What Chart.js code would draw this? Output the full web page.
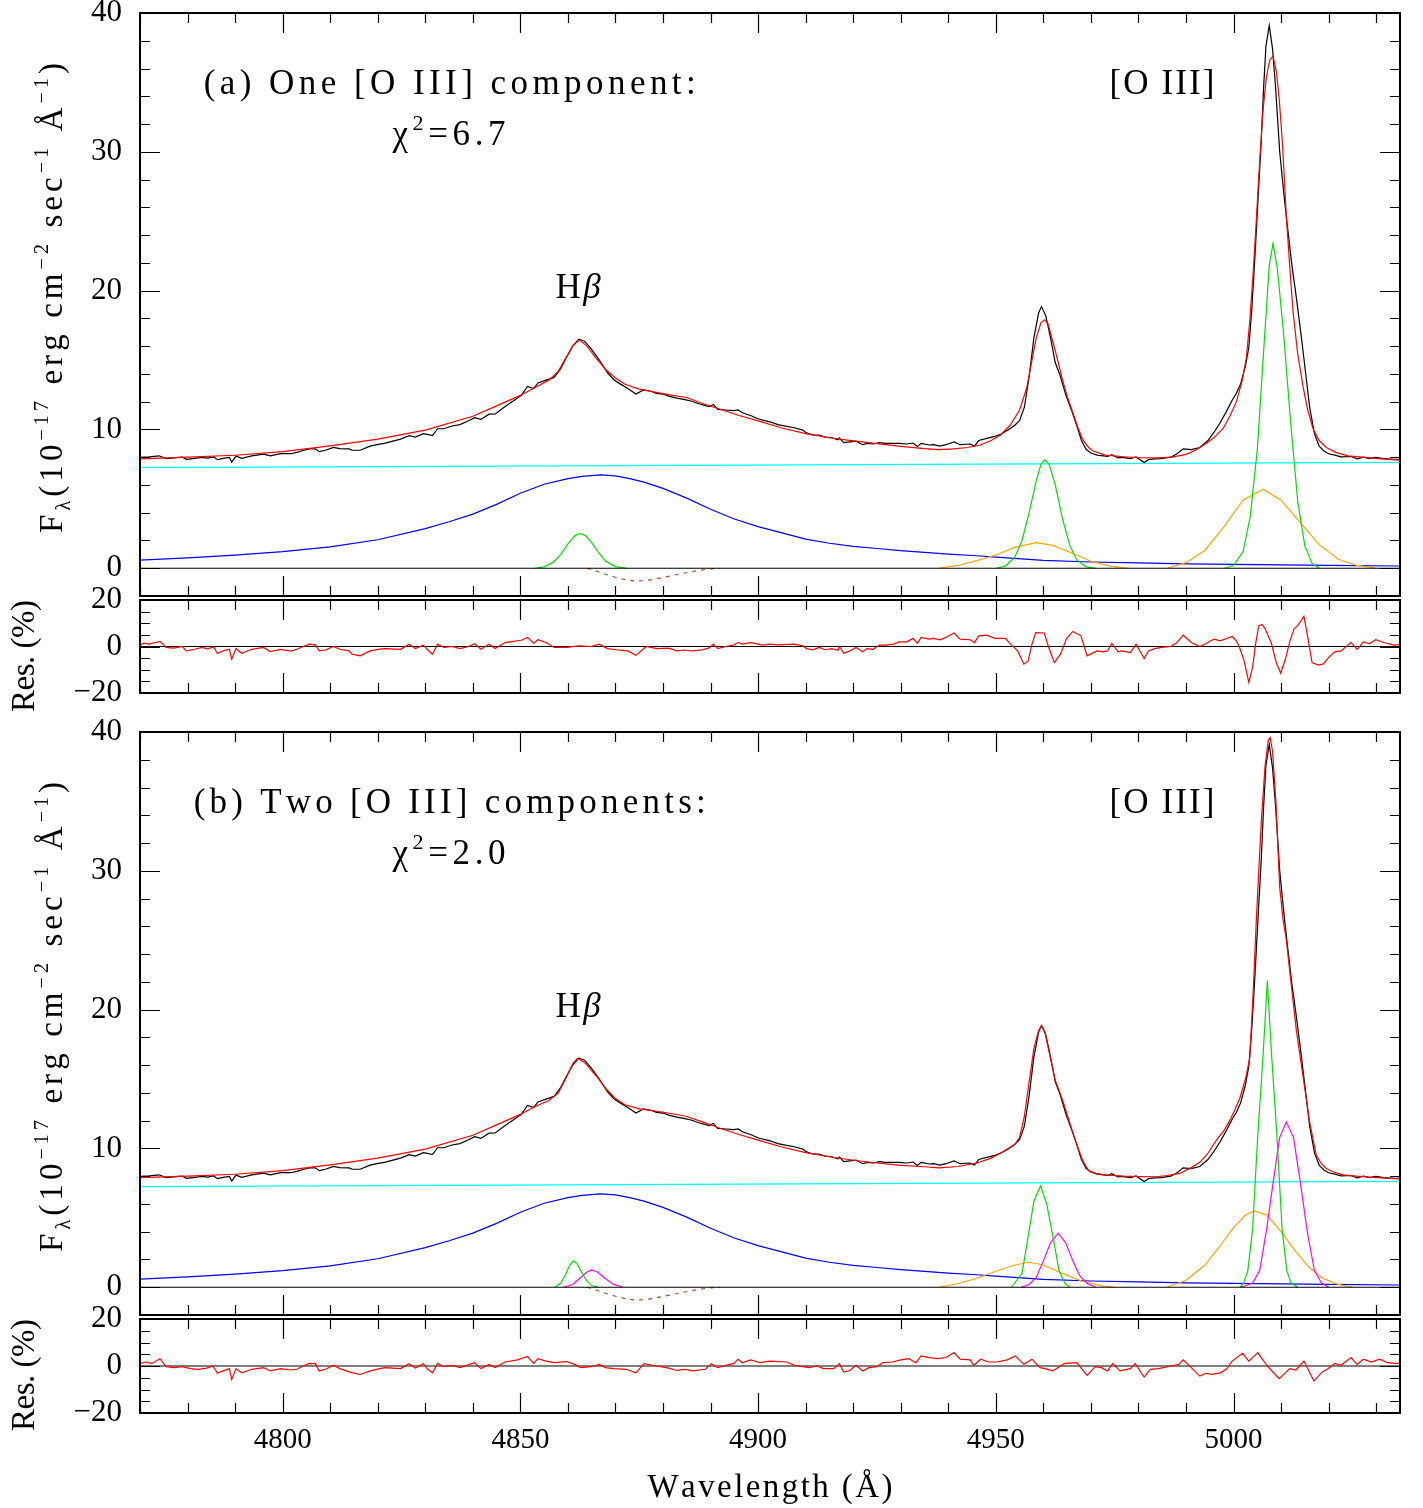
<!DOCTYPE html>
<html>
<head>
<meta charset="utf-8">
<script src="https://cdn.jsdelivr.net/npm/chart.js@4.4.0/dist/chart.umd.min.js"></script>
<style>
body { margin: 0; background: #fff; }
#wrap { position: relative; width: 1423px; height: 1508px; background: #fff; }
canvas { position: absolute; left: 0; }
</style>
</head>
<body>
<div id="wrap">
  <canvas id="mainA" width="1423" height="620" style="top:0px"></canvas>
  <canvas id="resA" width="1423" height="160" style="top:575px"></canvas>
  <canvas id="mainB" width="1423" height="640" style="top:700px"></canvas>
  <canvas id="resB" width="1423" height="218" style="top:1290px"></canvas>
</div>
<script>
// wavelength range (Angstrom)
const xMin = 4770, xMax = 5035;
const xLabels = [4800, 4850, 4900, 4950, 5000];
const yLabelsMain = [0, 10, 20, 30, 40];
const yLabelsRes = [-20, 0, 20];

// observed spectrum, same in both panels
const obsWave = [4770,4772,4774,4775.5,4777,4778.9,4779.8,4781.5,4783,4784.2,4785.5,4786.3,4787.5,4788.8,4789.3,4790.2,4791.4,4793.5,4796,4797.4,4799.6,4801.7,4803,4804.3,4805.6,4806.9,4807.7,4809,4810.7,4812,4814,4814.6,4816.3,4818.4,4820.1,4821.4,4824.8,4826.6,4827.9,4829.6,4830.4,4831.5,4832.6,4833.9,4835.6,4837.3,4839.1,4840.4,4841.7,4843.4,4844.7,4846.8,4848.5,4850.2,4851.5,4852.8,4853.7,4855.4,4857.1,4858.5,4859.7,4861,4862.3,4863.5,4864.9,4866.6,4868.3,4869.6,4870.9,4872.6,4874.3,4875.9,4877.5,4878.6,4880,4881.2,4882.9,4884.6,4885.9,4888,4889.7,4890.6,4891.5,4893.2,4894.9,4895.8,4896.7,4898.4,4900.1,4902.5,4904.2,4906,4907.6,4909.4,4910.2,4911.5,4912.8,4914.1,4915.5,4916.8,4917.1,4918,4919.3,4920.6,4922,4922.9,4924.2,4925.5,4926.8,4928.5,4929.6,4931.3,4932.6,4933.5,4934.3,4936,4936.9,4938.2,4939.5,4941.2,4942.5,4944.6,4945.5,4946.4,4948.1,4949.8,4951,4952.5,4954,4955,4956,4957,4958,4959,4959.6,4960.5,4961.5,4962.5,4963.5,4964.8,4966,4967,4968,4969,4970,4971.3,4972.6,4973.5,4974.4,4975.7,4976.5,4978.3,4979.5,4981.2,4982.1,4983.4,4984.7,4986.8,4988.1,4989.4,4991.1,4992.9,4994.6,4995.9,4997.2,4998.5,4999.7,5000.6,5001.5,5002.5,5003.2,5003.8,5004.5,5005.2,5005.8,5006.3,5006.8,5007.5,5008.2,5008.8,5009.7,5010.5,5011.2,5012.2,5013.2,5014.2,5015,5016,5017,5018,5019,5020,5021.3,5022.6,5024.7,5026,5027.3,5028.6,5029.9,5031.6,5033.7,5035];
const obsFlux = [7.98,8.02,8.1,7.9,7.95,8.0,7.85,7.92,7.98,7.94,8.02,7.82,7.92,7.98,7.65,8.08,7.92,8.1,8.22,8.1,8.25,8.25,8.35,8.48,8.6,8.6,8.4,8.5,8.7,8.62,8.6,8.5,8.5,8.8,8.92,9.0,9.3,9.55,9.45,9.7,9.65,9.55,10.05,10.05,10.25,10.35,10.62,10.85,10.72,11.1,11.12,11.65,12.05,12.45,13.1,12.95,13.35,13.55,13.75,14.4,15.2,16.0,16.5,16.35,15.8,15.0,14.1,13.6,13.3,12.95,12.55,12.85,12.75,12.6,12.55,12.4,12.25,12.15,12.05,11.8,11.65,11.8,11.45,11.4,11.35,11.4,11.2,11.0,10.75,10.55,10.35,10.22,10.12,9.95,9.75,9.6,9.6,9.45,9.4,9.25,9.38,9.05,9.1,9.15,8.9,9.0,8.95,9.05,9.0,9.0,9.0,8.95,9.02,8.78,9.0,8.88,8.9,8.8,8.9,9.1,8.9,8.95,8.8,9.2,9.35,9.5,9.65,9.95,10.3,10.65,11.6,13.8,16.6,18.4,18.85,18.2,16.6,14.8,13.9,12.4,11.3,10.3,9.2,8.55,8.3,8.15,8.1,8.05,8.18,7.95,7.98,7.9,8.02,7.62,7.82,7.88,7.9,8.0,8.25,8.6,8.55,8.7,9.2,9.8,10.5,11.3,12.1,12.6,13.3,14.6,15.9,18.5,22.5,27.0,30.7,34.5,37.6,39.1,37.4,34.8,30.0,27.2,25.0,22.0,19.5,16.8,14.5,11.6,9.7,8.8,8.45,8.25,8.15,8.02,8.05,7.88,8.0,7.9,7.98,7.9,7.85,7.85];

// total model, fit (a): one [O III] component
const fitA = [[4770,7.88],[4780,8.0],[4790,8.14],[4800,8.4],[4810,8.82],[4820,9.3],[4830,9.95],[4840,10.95],[4845,11.7],[4850,12.45],[4853,13.0],[4856,13.55],[4858,14.2],[4859.5,15.1],[4861,16.0],[4862.4,16.45],[4864,16.0],[4866,15.1],[4868,14.3],[4870,13.7],[4872,13.25],[4875,12.9],[4878,12.7],[4882,12.45],[4885,12.3],[4888,11.9],[4892,11.45],[4896,11.0],[4900,10.62],[4905,10.1],[4910,9.7],[4915,9.4],[4920,9.18],[4925,8.98],[4930,8.78],[4935,8.62],[4938,8.55],[4941,8.6],[4944,8.7],[4946.6,8.86],[4949,9.2],[4951,9.6],[4953,10.3],[4955,11.4],[4956.5,13.0],[4957.5,14.8],[4958.5,16.6],[4959.5,17.7],[4960.3,17.9],[4961,17.6],[4962,16.3],[4963,15.0],[4964,13.6],[4965,12.4],[4966.2,11.2],[4967.3,10.1],[4968.3,9.25],[4969.5,8.7],[4970.5,8.44],[4973,8.15],[4976.8,8.03],[4980,7.97],[4984,7.95],[4987,8.0],[4990,8.2],[4992,8.5],[4994.3,9.0],[4996,9.45],[4997.8,10.07],[4999.3,11.0],[5000.6,12.0],[5001.8,13.5],[5002.7,15.2],[5003.4,17.8],[5004.1,21.2],[5004.8,25.2],[5005.5,29.4],[5006.2,33.0],[5006.9,35.4],[5007.6,36.6],[5008.3,36.9],[5009,35.8],[5009.6,33.8],[5010.3,30.5],[5011.1,25.3],[5011.8,21.8],[5012.5,18.5],[5013.5,15.4],[5014.6,13.1],[5015.6,11.4],[5016.7,10.07],[5018,9.2],[5019.5,8.7],[5021.5,8.35],[5024,8.1],[5027,8.0],[5031,7.88],[5035,7.78]];

// total model, fit (b): two [O III] components
const fitB = [[4770,7.9],[4780,8.0],[4790,8.14],[4800,8.4],[4810,8.82],[4820,9.3],[4830,9.95],[4840,10.95],[4845,11.7],[4850,12.45],[4853,13.0],[4856,13.45],[4858,14.0],[4859.5,15.0],[4861,16.1],[4862,16.5],[4863.5,16.2],[4866,15.2],[4868,14.3],[4870,13.6],[4872,13.15],[4875,12.85],[4878,12.7],[4882,12.5],[4885,12.3],[4888,11.95],[4892,11.45],[4896,11.0],[4900,10.6],[4905,10.1],[4910,9.7],[4915,9.4],[4920,9.15],[4925,8.95],[4930,8.78],[4935,8.68],[4938,8.6],[4942,8.7],[4946,8.95],[4949,9.3],[4952,9.85],[4954,10.3],[4955,10.8],[4956,12.3],[4957,14.8],[4958,17.2],[4959,18.5],[4959.6,18.85],[4960.3,18.4],[4961.3,16.8],[4962.5,14.9],[4963.5,14.0],[4964.5,13.0],[4965.5,11.9],[4966.9,10.4],[4968.3,9.1],[4969.5,8.4],[4971,8.2],[4973,8.1],[4976.8,8.0],[4980,7.97],[4983.8,7.96],[4986,8.05],[4988.7,8.2],[4991,8.6],[4992.9,9.0],[4994.5,9.6],[4996.4,10.6],[4998,11.3],[4999.2,12.0],[5000.3,12.8],[5001.3,13.6],[5002.5,15.0],[5003.4,16.5],[5004.1,21.1],[5004.8,26.6],[5005.8,33.4],[5006.6,37.5],[5007.3,39.4],[5007.7,39.6],[5008.2,38.6],[5008.9,35.0],[5009.7,28.8],[5010.4,26.5],[5011.1,25.0],[5011.8,22.8],[5013.2,18.5],[5014.6,15.2],[5016,11.9],[5017.4,9.5],[5018.5,8.9],[5019.5,8.56],[5021,8.3],[5023,8.1],[5025.8,8.0],[5030,7.9],[5035,7.8]];

// power-law continuum
const continuum = [[4770,7.25],[5035,7.62]];

// broad H beta
const broadHb = [[4770,0.58],[4780,0.75],[4790,0.95],[4800,1.2],[4810,1.54],[4820,2.05],[4830,2.85],[4835,3.35],[4840,3.9],[4845,4.6],[4850,5.4],[4855,6.05],[4860,6.45],[4863,6.62],[4866.8,6.72],[4870,6.65],[4873,6.45],[4876,6.2],[4880,5.75],[4885,5.05],[4890,4.25],[4895,3.55],[4900,3.0],[4905,2.55],[4910,2.1],[4915,1.8],[4920,1.58],[4925,1.42],[4930,1.27],[4935,1.14],[4940,1.02],[4946,0.9],[4950,0.8],[4960,0.56],[4970,0.45],[4980,0.38],[4990,0.32],[5000,0.28],[5010,0.24],[5020,0.2],[5035,0.16]];

// Fe II absorption-like dip (dashed)
const feDip = [[4864,0],[4866,-0.2],[4868,-0.45],[4870,-0.65],[4872,-0.82],[4874,-0.92],[4876,-0.9],[4878,-0.8],[4880,-0.67],[4882,-0.52],[4884,-0.38],[4886,-0.25],[4888,-0.13],[4890,-0.04],[4892,0]];

// panel (a) narrow components
const narrowHbA = [[4853,0],[4855,0.1],[4857,0.45],[4858.5,1.0],[4860,1.75],[4861.5,2.35],[4862.6,2.5],[4863.7,2.35],[4865,1.85],[4866.5,1.1],[4868,0.5],[4870,0.12],[4872.4,0]];
const narrow4959A = [[4950,0],[4952,0.15],[4954,0.8],[4955.5,2.0],[4957,4.0],[4958.5,6.3],[4959.5,7.5],[4960.3,7.8],[4961.2,7.5],[4962.5,6.0],[4964,3.6],[4965.5,1.7],[4967,0.6],[4969,0.1],[4971,0]];
const narrow5007A = [[4998,0],[5000,0.2],[5002,1.2],[5003.5,3.7],[5005,8.6],[5006.3,15.5],[5007.5,21.8],[5008.3,23.4],[5009.2,21.6],[5010.5,17.0],[5012,10.5],[5013.5,4.8],[5015,1.6],[5016.5,0.35],[5018,0]];
const wing4959A = [[4938,0],[4942,0.2],[4946,0.55],[4950,0.95],[4954,1.5],[4958.5,1.85],[4962,1.65],[4966,1.1],[4970,0.5],[4974,0.15],[4978,0]];
const wing5007A = [[4986,0],[4990,0.4],[4994,1.3],[4998,3.0],[5002,4.9],[5006.2,5.7],[5010,4.9],[5014,3.3],[5018,1.7],[5022,0.65],[5026,0.2],[5030,0]];

// panel (b) narrow components
const narrowHbB = [[4857.3,0],[4858.5,0.3],[4859.5,0.9],[4860.4,1.6],[4861.2,1.9],[4862,1.65],[4863,1.0],[4864,0.45],[4865,0.12],[4866.4,0]];
const shiftHbB = [[4859.1,0],[4861,0.2],[4862.5,0.65],[4864,1.1],[4865,1.25],[4866.2,1.1],[4867.8,0.65],[4869.5,0.22],[4871.6,0]];
const narrow4959B = [[4953.3,0],[4955.5,1.0],[4956.8,3.65],[4958,6.2],[4959.4,7.3],[4960.7,6.0],[4962,3.65],[4963.3,1.2],[4964.5,0.3],[4965.5,0]];
const narrow5007B = [[5001.3,0],[5002.1,0.3],[5003,1.2],[5004,4.2],[5005.1,11],[5006.2,16.7],[5007.1,22.1],[5008,16.7],[5009.1,11],[5010.2,4.2],[5011.2,1.2],[5012.1,0.3],[5013.5,0]];
const shift4959B = [[4955.4,0],[4957,0.2],[4958.5,0.7],[4960,1.9],[4961.5,3.2],[4963.1,3.9],[4964.7,3.2],[4966.2,1.9],[4967.7,0.8],[4969.3,0.25],[4971,0]];
const shift5007B = [[5001.6,0],[5004,0.3],[5005.5,1.2],[5007,4.3],[5008.3,7.5],[5009.7,10.8],[5011.1,11.9],[5012.6,10.8],[5014.2,7.2],[5015.5,4.0],[5017,1.2],[5018.5,0.3],[5020,0]];
const wing4959B = [[4938,0],[4942,0.25],[4946,0.65],[4950,1.15],[4954,1.6],[4957,1.8],[4960,1.6],[4964,1.0],[4968,0.45],[4972,0.12],[4975,0]];
const wing5007B = [[4986,0],[4990,0.5],[4994,1.6],[4997,2.9],[5000,4.3],[5002.5,5.2],[5004.4,5.5],[5007,5.2],[5010,4.0],[5013,2.6],[5016,1.4],[5019,0.6],[5022,0.2],[5025,0]];

// residuals (%)
const resA = [[4770,0.6],[4770.8,1.4],[4772,1.0],[4773,1.6],[4774.2,2.2],[4775.5,-0.4],[4777,-0.7],[4778.9,0],[4779.8,-1.9],[4781.5,-1.2],[4783,-0.4],[4784.2,-1.0],[4785.5,-0.2],[4786.3,-3.0],[4787.5,-1.9],[4788.8,-1.2],[4789.3,-5.5],[4790.2,-0.9],[4791.4,-2.9],[4793.5,-1.2],[4796,-0.4],[4797.4,-2.2],[4799.6,-1.2],[4801.7,-2.0],[4803,-1.2],[4804.3,0],[4805.6,1.0],[4806.9,0.7],[4807.7,-1.9],[4809,-1.5],[4810.7,0],[4812,-1.2],[4814,-1.9],[4814.6,-3.3],[4816.3,-4.0],[4818.4,-1.9],[4820.1,-1.2],[4821.4,-0.9],[4824.8,-1.2],[4826.6,1.0],[4827.9,-0.9],[4829.6,0.6],[4830.4,-1.2],[4831.5,-3.3],[4832.6,1.0],[4833.9,-0.4],[4835.6,0],[4837.3,-0.9],[4839.1,0],[4840.4,1.2],[4841.7,-1.2],[4843.4,1.0],[4844.7,-0.9],[4846.8,1.7],[4848.5,2.2],[4850.2,2.7],[4851.5,3.9],[4852.8,1.4],[4853.7,2.9],[4855.4,1.7],[4857.1,-0.4],[4859.7,-0.4],[4862.3,0.3],[4864.9,0],[4866.6,1.0],[4868.3,-0.9],[4870.9,-1.6],[4872.6,-1.9],[4874.3,-3.8],[4876.5,0],[4878.6,-0.9],[4881.2,-0.7],[4882.9,-1.9],[4884.6,-1.5],[4885.9,-1.9],[4888,-1.6],[4889.7,-0.6],[4890.6,1.0],[4891.5,-0.9],[4893.2,0],[4894.9,0.7],[4895.8,1.7],[4896.7,1.0],[4898.4,1.7],[4900.1,1.0],[4900.8,0.6],[4902.5,1.0],[4904.2,0.7],[4907.6,1.0],[4909.4,0.3],[4910.2,-0.9],[4911.5,-1.4],[4912.8,-0.4],[4914.1,-1.4],[4915.5,-0.9],[4916.8,-1.6],[4917.1,0],[4918,-2.9],[4919.3,-1.9],[4920.6,-0.4],[4922,-2.3],[4922.9,-0.9],[4924.2,-1.2],[4925.5,0.6],[4926.8,0.6],[4928.5,1.0],[4929.6,2.0],[4931.3,2.0],[4932.6,3.5],[4933.5,1.4],[4934.3,3.9],[4936,3.2],[4936.9,3.5],[4938.2,2.9],[4939.5,3.9],[4941.2,5.8],[4942.5,3.2],[4944.6,2.9],[4945.5,1.7],[4946.4,4.6],[4948.1,4.9],[4949.8,3.5],[4952,3.5],[4953.3,0.6],[4954.6,-1.9],[4955.9,-7.6],[4956.8,-6.2],[4957.6,1.0],[4958.4,6.0],[4960.2,5.8],[4961,0.3],[4962.3,-6.9],[4963.6,-3.3],[4964.9,3.5],[4966.2,6.5],[4967.9,4.6],[4969.2,-4.0],[4971.3,-1.9],[4972.6,-2.3],[4973.5,-1.9],[4974.4,1.4],[4975.7,-2.3],[4976.5,-1.9],[4978.3,-2.6],[4979.5,1.0],[4981.2,-5.2],[4982.1,-1.9],[4983.4,-0.9],[4984.7,-0.4],[4986.8,0],[4988.1,1.7],[4989.4,4.9],[4991.1,1.7],[4992.9,0],[4994.6,1.7],[4995.9,3.2],[4997.2,2.4],[4999.7,4.3],[5000.6,2.4],[5001.2,0],[5002.2,-6.0],[5003.2,-15.4],[5004,-9.0],[5004.7,2.0],[5005.3,8.9],[5006,9.5],[5006.6,7.8],[5007.9,1.7],[5009,-7.0],[5009.9,-11.5],[5010.9,-5.5],[5011.8,2.0],[5012.7,7.5],[5013.5,9.0],[5014.8,13.0],[5015.6,4.0],[5016.5,-6.9],[5017.8,-8.0],[5018.9,-7.5],[5020,-4.7],[5021.3,-2.3],[5022.6,-1.9],[5024.7,1.7],[5026,-1.2],[5027.3,2.0],[5028.6,1.2],[5029.9,2.9],[5031.6,1.7],[5033.7,0.6],[5035,0.8]];
const resB = [[4770,1.1],[4771.3,1.7],[4772.5,1.1],[4774.2,3.1],[4775.5,-0.3],[4777.2,-0.7],[4778.9,-0.3],[4780.6,-1.1],[4782.3,-1.4],[4784,-0.9],[4785.3,0],[4786.3,-3.0],[4787.5,-2.1],[4788.8,-1.1],[4789.3,-5.7],[4790.2,-1.1],[4791.4,-2.9],[4793.5,-1.4],[4796,-0.7],[4797.4,-2.1],[4799.6,-1.1],[4801.7,-1.7],[4803,-1.4],[4804.3,0],[4805.6,1.1],[4806.9,1.0],[4807.7,-2.1],[4809,-1.4],[4810.7,0.3],[4812,-1.1],[4814.2,-2.6],[4816.3,-3.6],[4818.4,-2.1],[4821.4,-0.7],[4824.8,-1.1],[4826.6,1.0],[4827.9,-0.9],[4829.6,1.0],[4830.4,-1.1],[4831.5,-2.9],[4832.6,1.1],[4833.9,-0.3],[4835.6,0.3],[4837.3,-0.7],[4840.4,1.4],[4841.7,-1.1],[4843.4,0.7],[4844.7,-0.7],[4846.8,1.7],[4849.4,2.6],[4851.5,4.1],[4852.8,1.1],[4853.7,3.1],[4855.4,2.1],[4857.1,1.4],[4859.7,1.9],[4861.4,0.7],[4862.7,-0.7],[4864.9,-0.3],[4866.6,0.7],[4867.9,-0.7],[4869.6,-1.1],[4872.2,-1.4],[4874.3,-2.9],[4876,1.0],[4878.6,0],[4881.2,-0.9],[4882.9,-1.9],[4884.6,-1.4],[4886.3,-2.1],[4888.9,-1.4],[4890.2,1.0],[4891.5,-0.7],[4893.2,0.3],[4894.9,1.1],[4895.8,2.9],[4896.7,1.4],[4898.4,2.6],[4900.5,1.4],[4902.5,2.1],[4906,1.7],[4907.7,0.3],[4909.4,-0.3],[4910.7,-0.7],[4912.4,0],[4913.7,-1.1],[4915.9,-1.1],[4917.1,1.0],[4918,-2.6],[4919.3,-1.9],[4920.6,0.3],[4922,-2.1],[4923.3,-0.7],[4925,-0.3],[4926.2,1.4],[4928.3,1.7],[4930,2.6],[4931.7,3.1],[4933.2,1.4],[4934.3,4.3],[4936,3.6],[4937.7,3.1],[4939.5,3.6],[4941.2,5.7],[4942.5,2.9],[4944.6,2.6],[4945.4,0.3],[4946.8,2.9],[4948.5,1.7],[4950.2,1.7],[4952.4,2.6],[4954.1,4.3],[4955.9,0.7],[4957.6,2.9],[4959.3,-0.7],[4960.6,-1.2],[4961.9,-2.1],[4963.2,-0.5],[4964.5,1.1],[4967,1.4],[4969.2,-4.0],[4970.9,-0.3],[4972.2,-0.7],[4973.5,-2.1],[4974.6,1.1],[4976.1,-2.1],[4978.3,-1.1],[4979.3,1.1],[4981.2,-4.7],[4982.5,-1.4],[4984.2,-1.1],[4986.8,0],[4988.5,0.7],[4989.4,2.6],[4991.1,-0.7],[4992.9,-4.3],[4994.2,-3.1],[4995.5,-3.6],[4997.2,-2.9],[4998.5,-1.4],[4999.7,2.1],[5001.9,5.4],[5003.2,2.1],[5005.1,5.7],[5007.1,0],[5009.6,-5.4],[5011.8,-1.1],[5013.1,-1.7],[5014.8,2.1],[5016.9,-6.4],[5018.6,-2.6],[5019.9,-1.1],[5021.3,1.1],[5022.6,0.3],[5024.7,3.6],[5026,0.7],[5027.3,2.9],[5029,1.7],[5030.7,2.9],[5032.4,1.4],[5034.1,1.1],[5035,1.1]];

const zeroLine = [[xMin,0],[xMax,0]];

const FONT = "'Liberation Serif', 'DejaVu Serif', serif";
Chart.defaults.font.family = FONT;
Chart.defaults.color = '#000';

function xy(pairs) { return pairs.map(p => ({ x: p[0], y: p[1] })); }
function zip(w, f) { return w.map((x, i) => ({ x: x, y: f[i] })); }
function ln(data, color, extra) {
    return Object.assign({ data: data, borderColor: color, borderWidth: 1.2, pointRadius: 0, fill: false, tension: 0 }, extra || {});
}
function minusFmt(v) { return v < 0 ? '\u2212' + Math.abs(v) : String(v); }

// text with super/subscripts, stretched to a given length
function drawRich(ctx, parts, x, y, size, target) {
    const chars = [];
    parts.forEach(p => {
        const s = (p.sup || p.sub) ? Math.round(size * 0.62) : size;
        const dy = p.sup ? -size * 0.42 : (p.sub ? size * 0.24 : 0);
        for (const ch of p.t) chars.push({ ch: ch, s: s, dy: dy, it: !!p.it });
    });
    let w = 0;
    chars.forEach(c => {
        ctx.font = (c.it ? 'italic ' : '') + c.s + 'px ' + FONT;
        c.w = ctx.measureText(c.ch).width;
        w += c.w;
    });
    const sp = target ? (target - w) / Math.max(chars.length - 1, 1) : 0;
    let cx = x;
    chars.forEach(c => {
        ctx.font = (c.it ? 'italic ' : '') + c.s + 'px ' + FONT;
        ctx.fillText(c.ch, cx, y + c.dy);
        cx += c.w + sp;
    });
}

// frame, inward ticks and labels
const framePlugin = {
    id: 'frame',
    afterDatasetsDraw(chart, args, opts) {
        const ctx = chart.ctx, a = chart.chartArea;
        const xs = chart.scales.x, ys = chart.scales.y;
        ctx.save();
        ctx.strokeStyle = '#000';
        ctx.lineWidth = 1.2;
        ctx.beginPath();
        for (let v = 4770; v <= xMax; v += 10) {
            const px = Math.round(xs.getPixelForValue(v)) + 0.5;
            const len = v % 50 === 0 ? 20 : 10;
            ctx.moveTo(px, a.top); ctx.lineTo(px, a.top + len);
            ctx.moveTo(px, a.bottom); ctx.lineTo(px, a.bottom - len);
        }
        for (let v = opts.yFrom; v <= opts.yTo; v += opts.yMinor) {
            const py = Math.round(ys.getPixelForValue(v)) + 0.5;
            const len = v % opts.yMajor === 0 ? 20 : 10;
            ctx.moveTo(a.left, py); ctx.lineTo(a.left + len, py);
            ctx.moveTo(a.right, py); ctx.lineTo(a.right - len, py);
        }
        ctx.stroke();
        ctx.lineWidth = 2;
        ctx.strokeRect(a.left, a.top, a.right - a.left, a.bottom - a.top);

        ctx.fillStyle = '#000';
        ctx.textBaseline = 'alphabetic';
        ctx.textAlign = 'left';
        (opts.notes || []).forEach(n => {
            drawRich(ctx, n.parts, xs.getPixelForValue(n.x), ys.getPixelForValue(n.y), n.size, n.width);
        });
        if (opts.title) {
            const t = opts.title;
            ctx.save();
            ctx.translate(t.x, a.top + t.dy);
            ctx.rotate(-Math.PI / 2);
            drawRich(ctx, t.parts, -t.width / 2, 0, t.size, t.width);
            ctx.restore();
        }
        if (opts.xTitle) {
            const t = opts.xTitle;
            drawRich(ctx, t.parts, (a.left + a.right) / 2 - t.width / 2, a.bottom + t.dy, t.size, t.width);
        }
        ctx.restore();
    }
};

const fluxTitle = [{ t: 'F' }, { t: '\u03bb', sub: true }, { t: '(10' }, { t: '\u221217', sup: true }, { t: ' erg cm' }, { t: '\u22122', sup: true }, { t: ' sec' }, { t: '\u22121', sup: true }, { t: ' \u00c5' }, { t: '\u22121', sup: true }, { t: ')' }];
const resTitle = [{ t: 'Res. (%)' }];

function makePanel(id, cfg) {
    return new Chart(document.getElementById(id), {
        type: 'line',
        data: { datasets: cfg.datasets },
        options: {
            responsive: false,
            animation: false,
            devicePixelRatio: 1,
            layout: { padding: cfg.padding },
            plugins: { legend: { display: false }, tooltip: { enabled: false }, frame: cfg.frame },
            scales: {
                x: {
                    type: 'linear', min: xMin, max: xMax,
                    display: !!cfg.showX,
                    grid: { display: false, drawTicks: false },
                    border: { display: false },
                    afterBuildTicks: s => { s.ticks = xLabels.map(v => ({ value: v })); },
                    afterFit: s => {
                        if (cfg.showX) { s.height = 95; s.paddingLeft = 0; s.paddingRight = 0; }
                    },
                    ticks: { color: '#000', padding: 10, maxRotation: 0, callback: v => String(v),
                             font: { family: FONT, size: 29, weight: 'normal' } }
                },
                y: {
                    type: 'linear', min: cfg.yMin, max: cfg.yMax,
                    grid: { display: false, drawTicks: false },
                    border: { display: false },
                    afterBuildTicks: s => { s.ticks = cfg.yLabels.map(v => ({ value: v })); },
                    afterFit: s => { s.width = 140; s.paddingTop = 0; s.paddingBottom = 0; },
                    ticks: { color: '#000', padding: 18, callback: minusFmt,
                             font: { family: FONT, size: 31, weight: 'normal' } }
                }
            }
        },
        plugins: [framePlugin]
    });
}

function mainNotes(tag, left, width, chi) {
    return [
        { parts: [{ t: tag }], x: left, y: 34.2, size: 35, width: width },
        { parts: [{ t: '\u03c7' }, { t: '2', sup: true }, { t: '=' + chi }], x: 4823.1, y: 30.5, size: 35, width: 113 },
        { parts: [{ t: 'H' }, { t: '\u03b2', it: true }], x: 4857.4, y: 19.5, size: 35, width: 45 },
        { parts: [{ t: '[O III]' }], x: 4973.9, y: 34.2, size: 35, width: 105 }
    ];
}

const obs = zip(obsWave, obsFlux);

makePanel('mainA', {
    padding: { left: 0, right: 23, top: 13, bottom: 24 },
    yMin: -2, yMax: 40, yLabels: yLabelsMain,
    frame: { yFrom: 0, yTo: 40, yMinor: 2, yMajor: 10, notes: mainNotes('(a) One [O III] component:', 4783.4, 492, '6.7'),
             title: { parts: fluxTitle, x: 62, dy: 285, size: 33, width: 470 } },
    datasets: [
        ln(xy(fitA), '#ff0000'),
        ln(obs, '#000000'),
        ln(xy(zeroLine), '#000000'),
        ln(xy(narrowHbA), '#00dd00'),
        ln(xy(narrow4959A), '#00dd00'),
        ln(xy(narrow5007A), '#00dd00'),
        ln(xy(wing4959A), '#ffa500'),
        ln(xy(wing5007A), '#ffa500'),
        ln(xy(feDip), '#a0522d', { borderDash: [4, 5] }),
        ln(xy(broadHb), '#0000ff'),
        ln(xy(continuum), '#00ffff')
    ]
});

makePanel('resA', {
    padding: { left: 0, right: 23, top: 25, bottom: 42 },
    yMin: -20, yMax: 20, yLabels: yLabelsRes,
    frame: { yFrom: -20, yTo: 20, yMinor: 5, yMajor: 20,
             title: { parts: resTitle, x: 34, dy: 56, size: 33, width: 112 } },
    datasets: [
        ln(xy(resA), '#ff0000'),
        ln(xy(zeroLine), '#000000')
    ]
});

makePanel('mainB', {
    padding: { left: 0, right: 23, top: 32, bottom: 25 },
    yMin: -2, yMax: 40, yLabels: yLabelsMain,
    frame: { yFrom: 0, yTo: 40, yMinor: 2, yMajor: 10, notes: mainNotes('(b) Two [O III] components:', 4781.3, 512, '2.0'),
             title: { parts: fluxTitle, x: 62, dy: 285, size: 33, width: 470 } },
    datasets: [
        ln(xy(fitB), '#ff0000'),
        ln(obs, '#000000'),
        ln(xy(zeroLine), '#000000'),
        ln(xy(narrowHbB), '#00dd00'),
        ln(xy(narrow4959B), '#00dd00'),
        ln(xy(narrow5007B), '#00dd00'),
        ln(xy(shiftHbB), '#ff00ff'),
        ln(xy(shift4959B), '#ff00ff'),
        ln(xy(shift5007B), '#ff00ff'),
        ln(xy(wing4959B), '#ffa500'),
        ln(xy(wing5007B), '#ffa500'),
        ln(xy(feDip), '#a0522d', { borderDash: [4, 5] }),
        ln(xy(broadHb), '#0000ff'),
        ln(xy(continuum), '#00ffff')
    ]
});

makePanel('resB', {
    padding: { left: 0, right: 23, top: 29, bottom: 0 },
    yMin: -20, yMax: 20, yLabels: yLabelsRes, showX: true,
    frame: { yFrom: -20, yTo: 20, yMinor: 5, yMajor: 20,
             title: { parts: resTitle, x: 34, dy: 56, size: 33, width: 112 },
             xTitle: { parts: [{ t: 'Wavelength (\u00c5)' }], dy: 84, size: 33, width: 245 } },
    datasets: [
        ln(xy(resB), '#ff0000'),
        ln(xy(zeroLine), '#000000')
    ]
});
</script>
</body>
</html>
